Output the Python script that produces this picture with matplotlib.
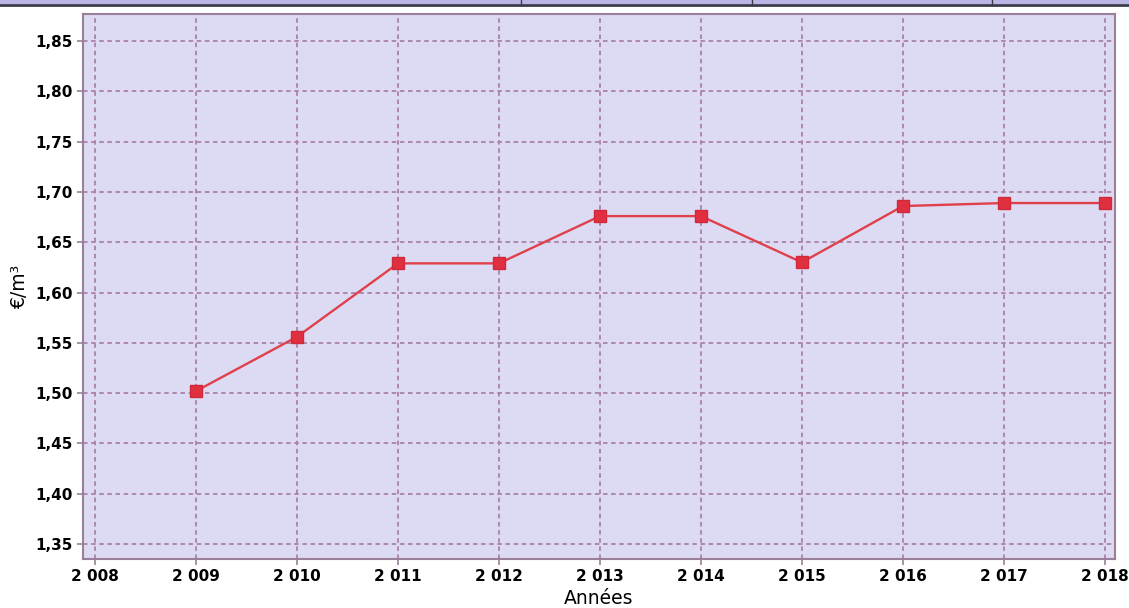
import matplotlib
matplotlib.use("Agg")
import matplotlib.pyplot as plt
from matplotlib.ticker import FuncFormatter, MultipleLocator
from matplotlib.lines import Line2D
from matplotlib.patches import Rectangle

years = [2009, 2010, 2011, 2012, 2013, 2014, 2015, 2016, 2017, 2018]
prices = [1.502, 1.556, 1.629, 1.629, 1.676, 1.676, 1.630, 1.686, 1.689, 1.689]

fig = plt.figure(figsize=(11.29, 6.08), dpi=100)
fig.patch.set_facecolor("white")
ax = fig.add_axes([0.0735, 0.0806, 0.9141, 0.8964])
ax.set_facecolor("#dddaf4")

ax.plot(years, prices, color="#e0404a", linewidth=1.7, marker="s",
        markersize=9, markerfacecolor="#e03040", markeredgecolor="#d02a3a", zorder=3)

ax.set_xlim(2007.88, 2018.1)
ax.set_ylim(1.335, 1.877)
ax.xaxis.set_major_locator(MultipleLocator(1))
ax.yaxis.set_major_locator(MultipleLocator(0.05))
ax.xaxis.set_major_formatter(FuncFormatter(lambda v, p: f"{int(round(v)):,}".replace(",", " ")))
ax.yaxis.set_major_formatter(FuncFormatter(lambda v, p: f"{v:.2f}".replace(".", ",")))

ax.grid(True, color="#ab82a8", linestyle=(0, (2.5, 2)), linewidth=1.3)
ax.set_axisbelow(True)
for s in ax.spines.values():
    s.set_color("#9a7f9a")
    s.set_linewidth(1.5)
ax.tick_params(colors="#9a7f9a", labelcolor="black", length=4, width=1.2)
for lab in ax.get_xticklabels() + ax.get_yticklabels():
    lab.set_fontweight("bold")
    lab.set_fontsize(11)

ax.set_xlabel("Années", fontsize=13.5, labelpad=3)
ax.set_ylabel("€/m³", fontsize=13.5, labelpad=4)

# top cropped band
fig.add_artist(Rectangle((0, 1 - 4/608), 1, 4/608, transform=fig.transFigure,
                         facecolor="#b9b6e6", edgecolor="none"))
fig.add_artist(Line2D([0, 1], [1 - 5/608, 1 - 5/608], transform=fig.transFigure,
                      color="#3a3a4a", linewidth=2))
for xp in [723, 1044, 1378]:
    xf = xp / 1568
    fig.add_artist(Line2D([xf, xf], [1 - 5/608, 1], transform=fig.transFigure,
                          color="#3a3a4a", linewidth=1))

fig.savefig("out.png", dpi=100)
